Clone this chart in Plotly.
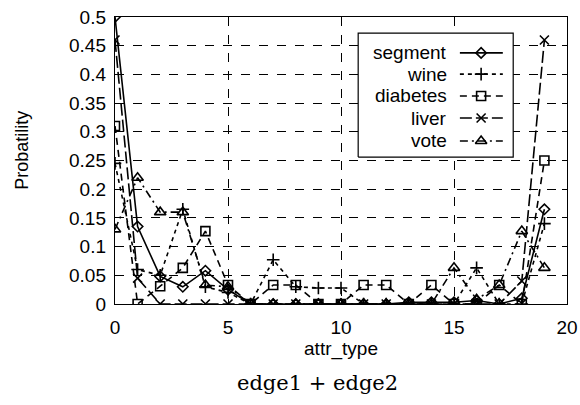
import plotly.graph_objects as go

attr_type = list(range(20))
segment = [0.50, 0.135, 0.048, 0.030, 0.058, 0.025, 0.0, 0.0, 0.0, 0.0, 0.0, 0.0, 0.0, 0.003, 0.003, 0.003, 0.006, 0.0, 0.01, 0.165]
wine = [0.245, 0.06, 0.05, 0.165, 0.03, 0.02, 0.0, 0.077, 0.03, 0.028, 0.028, 0.0, 0.0, 0.0, 0.0, 0.0, 0.063, 0.0, 0.0, 0.14]
diabetes = [0.31, 0.0, 0.031, 0.063, 0.127, 0.033, 0.0, 0.033, 0.033, 0.0, 0.0, 0.033, 0.033, 0.0, 0.033, 0.0, 0.0, 0.033, 0.0, 0.25]
liver = [0.46, 0.045, 0.0, 0.0, 0.0, 0.0, 0.0, 0.0, 0.0, 0.0, 0.0, 0.0, 0.0, 0.0, 0.0, 0.0, 0.0, 0.0, 0.04, 0.46]
vote = [0.13, 0.22, 0.16, 0.16, 0.033, 0.03, 0.0, 0.0, 0.0, 0.0, 0.0, 0.0, 0.0, 0.0, 0.0, 0.063, 0.008, 0.033, 0.127, 0.063]

series_names = ["segment", "wine", "diabetes", "liver", "vote"]
series_values = [segment, wine, diabetes, liver, vote]
symbols = ["diamond-open", "cross-thin-open", "square-open", "x-thin-open", "triangle-up-open"]
dashes = ["solid", "4px,4px", "7px,5px", "12px,4px", "8px,4px,2px,4px"]
msizes = [8, 9, 9, 9, 10]

FONT = "Liberation Sans"
fig = go.Figure()

for name, vals, sym, dash, ms in zip(series_names, series_values, symbols, dashes, msizes):
    fig.add_trace(go.Scatter(
        x=attr_type, y=vals, mode="lines+markers", name=name,
        line=dict(color="black", width=1.6, dash=dash),
        marker=dict(symbol=sym, size=ms, color="black", line=dict(color="black", width=1.6)),
        showlegend=False,
    ))

# custom legend (gnuplot style: text right-aligned, sample to the right), on an overlay 0..1 frame
leg_x0, leg_x1, leg_y0, leg_y1 = 0.538, 0.881, 0.512, 0.944
row_y = [0.875, 0.801, 0.725, 0.648, 0.568]
text_x = 0.739
samp_x = [0.763, 0.810, 0.858]

fig.add_trace(go.Scatter(
    x=[leg_x0, leg_x1, leg_x1, leg_x0, leg_x0], y=[leg_y0, leg_y0, leg_y1, leg_y1, leg_y0],
    mode="lines", fill="toself", fillcolor="white", line=dict(color="black", width=1.2),
    xaxis="x2", yaxis="y2", showlegend=False, hoverinfo="skip"))

for name, sym, dash, ms, ry in zip(series_names, symbols, dashes, msizes, row_y):
    fig.add_trace(go.Scatter(
        x=[samp_x[0], samp_x[2]], y=[ry, ry], mode="lines",
        line=dict(color="black", width=1.6, dash=dash),
        xaxis="x2", yaxis="y2", showlegend=False, hoverinfo="skip"))
    fig.add_trace(go.Scatter(
        x=[samp_x[1]], y=[ry], mode="markers",
        marker=dict(symbol=sym, size=ms, color="black", line=dict(color="black", width=1.6)),
        xaxis="x2", yaxis="y2", showlegend=False, hoverinfo="skip"))
    fig.add_annotation(xref="x domain", yref="y domain", x=text_x, y=ry, text=name,
                       showarrow=False, xanchor="right", yanchor="middle",
                       font=dict(family=FONT, size=19, color="black"))

axis_common = dict(showline=True, mirror="allticks", linecolor="black", linewidth=1.2,
                   ticks="inside", ticklen=5, tickcolor="black", tickwidth=1,
                   showgrid=True, gridcolor="black", gridwidth=1, griddash="dash",
                   zeroline=False, automargin=False, ticklabeloverflow="allow",
                   tickfont=dict(family=FONT, size=19, color="black"))

fig.update_layout(
    width=580, height=405,
    margin=dict(l=115, r=13, t=17, b=101),
    paper_bgcolor="white", plot_bgcolor="white",
    font=dict(family=FONT, size=19, color="black"),
    xaxis=dict(range=[0, 20], tickvals=[0, 5, 10, 15, 20], ticklabelstandoff=6, **axis_common,
               title=dict(text="attr_type", font=dict(family=FONT, size=19), standoff=4)),
    yaxis=dict(range=[0, 0.5], dtick=0.05, tick0=0, ticklabelstandoff=4, **axis_common),
    xaxis2=dict(range=[0, 1], overlaying="x", visible=False, fixedrange=True),
    yaxis2=dict(range=[0, 1], overlaying="y", visible=False, fixedrange=True),
    showlegend=False,
)

fig.add_annotation(xref="paper", yref="paper", x=-0.206, y=0.537, text="Probatility",
                   textangle=-90, showarrow=False, xanchor="center", yanchor="middle",
                   font=dict(family=FONT, size=18, color="black"))
fig.add_annotation(xref="paper", yref="paper", x=0.449, y=-0.275, text="edge1 + edge2",
                   showarrow=False, xanchor="center", yanchor="middle",
                   font=dict(family="DejaVu Serif", size=21, color="black"))

fig.write_html("out.html",
               config={"displayModeBar": False, "staticPlot": True},
               post_script="document.body.style.margin='0';document.body.style.overflow='hidden';")
